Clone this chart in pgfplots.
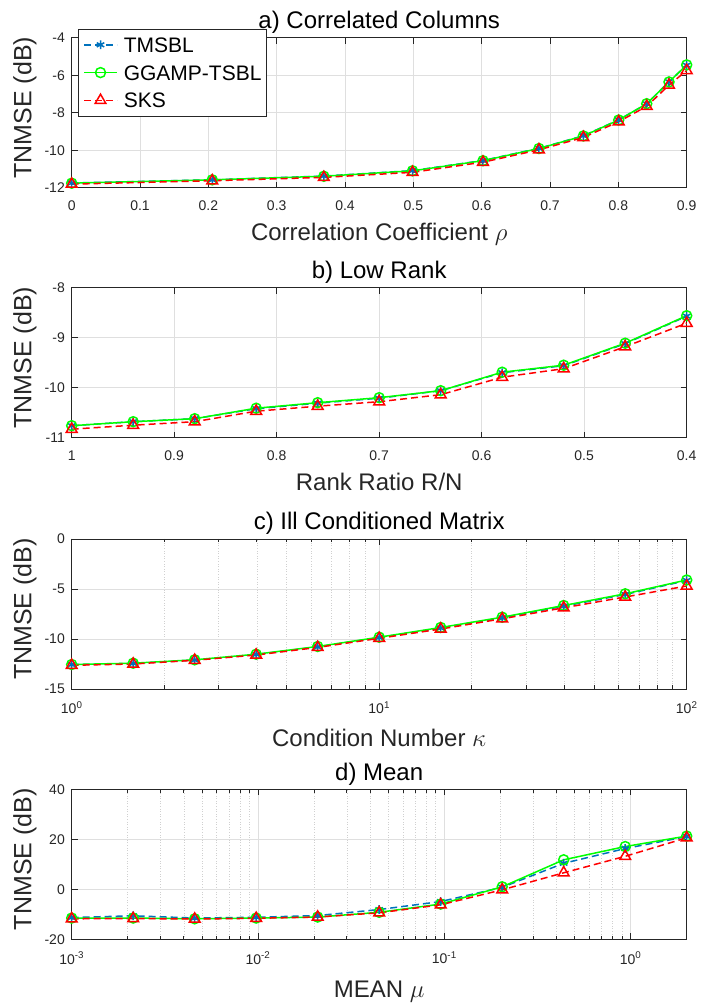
\documentclass[border=0pt]{standalone}
\usepackage{fontspec}
\setmainfont{Liberation Sans}
\usepackage{pgfplots}
\pgfplotsset{compat=1.18}
\definecolor{mblue}{RGB}{0,114,189}
\definecolor{mgreen}{RGB}{0,255,0}
\definecolor{mred}{RGB}{255,0,0}
\definecolor{axgray}{RGB}{38,38,38}
\definecolor{gridgray}{RGB}{223,223,223}
\definecolor{mgridgray}{RGB}{208,208,208}

\pgfplotsset{
  myaxis/.style={
    scale only axis, width=615pt, height=150pt,
    anchor=south west,
    axis line style={axgray, line width=0.8pt},
    every tick/.style={axgray, line width=0.8pt},
    tick align=inside,
    major tick length=6pt, minor tick length=3.5pt,
    xmajorgrids=true, ymajorgrids=true,
    major grid style={gridgray, line width=0.6pt, solid},
    minor grid style={mgridgray, line width=0.6pt, dotted},
    /pgf/number format/assume math mode=true,
    tick label style={font=\fontsize{14}{14}\selectfont, text=axgray},
    xticklabel style={inner sep=0pt, anchor=north, yshift=-12.5pt},
    yticklabel style={inner sep=0pt, anchor=east, xshift=-6.7pt},
    every axis title/.style={at={(0.5,1)}, anchor=base, yshift=9pt,
      font=\fontsize{24}{24}\selectfont, inner sep=0pt, text=black},
    every axis x label/.style={at={(0.5,0)}, anchor=base, yshift=-53pt,
      font=\fontsize{24}{24}\selectfont, inner sep=0pt, text=axgray},
    every axis y label/.style={at={([xshift=-46.7pt,yshift=5pt]axis description cs:0,0.5)},
      rotate=90, anchor=center,
      font=\fontsize{25}{25}\selectfont, inner sep=0pt, text=axgray},
    ylabel={TNMSE (dB)},
    clip=false,
    legend image code/.code={%
      \draw[mark repeat=2,mark phase=2,##1] plot coordinates {(0pt,0pt) (16.5pt,0pt) (33pt,0pt)};},
  },
  tms/.style={mblue, line width=1.5pt, dash pattern=on 7pt off 4pt, mark=asterisk, mark size=4.3pt, mark options={solid}},
  gga/.style={mgreen, line width=1.5pt, solid, mark=o, mark size=5pt, mark options={solid}},
  sks/.style={mred, line width=1.5pt, dash pattern=on 7pt off 4pt, mark=triangle, mark size=6.2pt, mark options={solid}},
}

\begin{document}
\begin{tikzpicture}
% a) Correlated Columns
\begin{axis}[myaxis, at={(71.7pt,819.3pt)},
  xmin=0, xmax=0.9, ymin=-12, ymax=-4,
  xtick={0,0.1,0.2,0.3,0.4,0.5,0.6,0.7,0.8,0.9},
  ytick={-12,-10,-8,-6,-4},
  title={a) Correlated Columns},
  xlabel={Correlation Coefficient $\rho$},
  legend cell align=left,
  legend style={at={(0.011,1.058)}, anchor=north west,
    draw=axgray, line width=0.6pt, fill=white,
    font=\fontsize{21}{21}\selectfont,
    inner xsep=4.5pt, inner ysep=8pt,
    row sep=12.8pt, column sep=6pt,
    nodes={inner sep=0pt, text height=15pt, text depth=0pt, text=black}},
]
\addplot[tms] coordinates {(0,-11.75) (0.2057,-11.58) (0.3690,-11.38) (0.4988,-11.09) (0.6019,-10.55) (0.6838,-9.90) (0.7488,-9.23) (0.8005,-8.38) (0.8415,-7.53) (0.8741,-6.35) (0.9,-5.47)};
\addlegendentry{TMSBL}
\addplot[gga] coordinates {(0,-11.76) (0.2057,-11.58) (0.3690,-11.39) (0.4988,-11.10) (0.6019,-10.56) (0.6838,-9.91) (0.7488,-9.24) (0.8005,-8.39) (0.8415,-7.52) (0.8741,-6.36) (0.9,-5.45)};
\addlegendentry{GGAMP-TSBL}
\addplot[sks] coordinates {(0,-11.81) (0.2057,-11.63) (0.3690,-11.45) (0.4988,-11.18) (0.6019,-10.64) (0.6838,-9.98) (0.7488,-9.32) (0.8005,-8.48) (0.8415,-7.66) (0.8741,-6.53) (0.9,-5.75)};
\addlegendentry{SKS}
\end{axis}

% b) Low Rank
\begin{axis}[myaxis, at={(71.7pt,569.3pt)},
  x dir=reverse,
  xmin=0.4, xmax=1, ymin=-11, ymax=-8,
  xtick={0.4,0.5,0.6,0.7,0.8,0.9,1},
  ytick={-11,-10,-9,-8},
  title={b) Low Rank},
  xlabel={Rank Ratio R/N},
]
\addplot[tms] coordinates {(1,-10.76) (0.94,-10.68) (0.88,-10.62) (0.82,-10.42) (0.76,-10.31) (0.70,-10.21) (0.64,-10.06) (0.58,-9.70) (0.52,-9.56) (0.46,-9.12) (0.40,-8.57)};
\addplot[gga] coordinates {(1,-10.76) (0.94,-10.68) (0.88,-10.62) (0.82,-10.41) (0.76,-10.30) (0.70,-10.20) (0.64,-10.06) (0.58,-9.69) (0.52,-9.55) (0.46,-9.11) (0.40,-8.56)};
\addplot[sks] coordinates {(1,-10.83) (0.94,-10.75) (0.88,-10.68) (0.82,-10.47) (0.76,-10.37) (0.70,-10.28) (0.64,-10.14) (0.58,-9.79) (0.52,-9.62) (0.46,-9.18) (0.40,-8.71)};
\end{axis}

% c) Ill Conditioned Matrix
\begin{axis}[myaxis, at={(71.7pt,318pt)},
  xmode=log, xmin=1, xmax=100, ymin=-15, ymax=0,
  xminorgrids=true,
  xtick={1,10,100},
  xticklabels={10\textsuperscript{0},10\textsuperscript{1},10\textsuperscript{2}},
  ytick={-15,-10,-5,0},
  title={c) Ill Conditioned Matrix},
  xlabel={Condition Number $\kappa$},
  every axis x label/.append style={yshift=-5pt},
]
\addplot[tms] coordinates {(1,-12.56) (1.5849,-12.45) (2.5119,-12.10) (3.9811,-11.55) (6.3096,-10.79) (10,-9.86) (15.849,-8.90) (25.119,-7.88) (39.811,-6.72) (63.096,-5.55) (100,-4.15)};
\addplot[gga] coordinates {(1,-12.55) (1.5849,-12.42) (2.5119,-12.08) (3.9811,-11.52) (6.3096,-10.75) (10,-9.82) (15.849,-8.85) (25.119,-7.82) (39.811,-6.65) (63.096,-5.48) (100,-4.10)};
\addplot[sks] coordinates {(1,-12.63) (1.5849,-12.50) (2.5119,-12.13) (3.9811,-11.60) (6.3096,-10.84) (10,-9.93) (15.849,-9.00) (25.119,-7.98) (39.811,-6.88) (63.096,-5.80) (100,-4.70)};
\end{axis}

% d) Mean
\begin{axis}[myaxis, at={(71.7pt,67.7pt)},
  xmode=log, xmin=0.001, xmax=2, ymin=-20, ymax=40,
  xminorgrids=true,
  xtick={0.001,0.01,0.1,1},
  xticklabels={10\textsuperscript{-3},10\textsuperscript{-2},10\textsuperscript{-1},10\textsuperscript{0}},
  ytick={-20,0,20,40},
  title={d) Mean},
  xlabel={MEAN $\mu$},
  every axis x label/.append style={yshift=-5pt},
]
\addplot[tms] coordinates {(0.001,-11.3) (0.0021386,-10.6) (0.0045739,-11.5) (0.009779,-11.2) (0.02091,-10.5) (0.044718,-8.1) (0.09563,-4.9) (0.20455,0.8) (0.43727,10.4) (0.93521,16.3) (2,21.1)};
\addplot[gga] coordinates {(0.001,-11.5) (0.0021386,-11.5) (0.0045739,-11.8) (0.009779,-11.5) (0.02091,-11.1) (0.044718,-9.2) (0.09563,-5.9) (0.20455,1.0) (0.43727,11.8) (0.93521,17.1) (2,21.3)};
\addplot[sks] coordinates {(0.001,-11.8) (0.0021386,-11.7) (0.0045739,-11.9) (0.009779,-11.6) (0.02091,-11.1) (0.044718,-9.4) (0.09563,-6.2) (0.20455,-0.2) (0.43727,6.6) (0.93521,13.2) (2,20.6)};
\end{axis}
\pgfresetboundingbox
\useasboundingbox (0pt,0pt) rectangle (703pt,1007pt);
\end{tikzpicture}
\end{document}
